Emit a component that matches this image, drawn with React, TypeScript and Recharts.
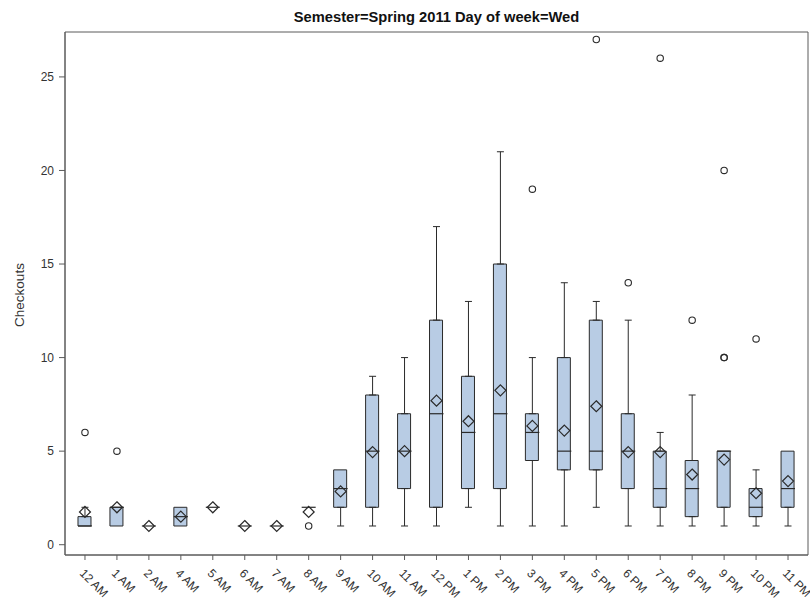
import React from 'react';
import { ComposedChart, Bar, Scatter, ErrorBar, XAxis, YAxis, ReferenceArea } from 'recharts';

const hourLabels = ['12 AM', '1 AM', '2 AM', '4 AM', '5 AM', '6 AM', '7 AM', '8 AM', '9 AM', '10 AM', '11 AM', '12 PM', '1 PM', '2 PM', '3 PM', '4 PM', '5 PM', '6 PM', '7 PM', '8 PM', '9 PM', '10 PM', '11 PM'];
const q1Values = [1, 1, 1, 1, 2, 1, 1, 2, 2, 2, 3, 2, 3, 3, 4.5, 4, 4, 3, 2, 1.5, 2, 1.5, 2];
const medianValues = [1, 2, 1, 1.5, 2, 1, 1, 2, 3, 5, 5, 7, 6, 7, 6, 5, 5, 5, 3, 3, 5, 2, 3];
const q3Values = [1.5, 2, 1, 2, 2, 1, 1, 2, 4, 8, 7, 12, 9, 15, 7, 10, 12, 7, 5, 4.5, 5, 3, 5];
const whiskerLowValues = [1, 1, 1, 1, 2, 1, 1, 2, 1, 1, 1, 1, 2, 1, 1, 1, 2, 1, 1, 1, 1, 1, 1];
const whiskerHighValues = [2, 2, 1, 2, 2, 1, 1, 2, 4, 9, 10, 17, 13, 21, 10, 14, 13, 12, 6, 8, 5, 4, 5];
const meanValues = [1.75, 2, 1, 1.5, 2, 1, 1, 1.75, 2.85, 4.95, 5, 7.7, 6.6, 8.25, 6.35, 6.1, 7.4, 4.95, 4.95, 3.75, 4.55, 2.75, 3.4];
const outlierHours = ['12 AM', '1 AM', '8 AM', '3 PM', '5 PM', '6 PM', '7 PM', '8 PM', '9 PM', '9 PM', '9 PM', '10 PM'];
const outlierValues = [6, 5, 1, 19, 27, 14, 26, 12, 10, 10, 20, 11];
const yTicks = [0, 5, 10, 15, 20, 25];

const FONT = '"Liberation Sans", Arial, Helvetica, sans-serif';
const FRAME = '#5a5a5a';
const INK = '#2a2a2a';
const BOX_FILL = '#B8CCE4';
const X_DOMAIN: [number, number] = [-0.625, 22.625];
const Y_DOMAIN: [number, number] = [-0.55, 27.4];

const xIdx = hourLabels.map((_, i) => i);
const boxRows = xIdx.map((i) => ({ x: i, box: [q1Values[i], q3Values[i]] }));
const medianRows = xIdx.map((i) => ({ x: i, y: medianValues[i] }));
const meanRows = xIdx.map((i) => ({ x: i, y: meanValues[i] }));
const lowWhiskerRows = xIdx
  .filter((i) => whiskerLowValues[i] < q1Values[i])
  .map((i) => ({ x: i, y: q1Values[i], err: [q1Values[i] - whiskerLowValues[i], 0] }));
const highWhiskerRows = xIdx
  .filter((i) => whiskerHighValues[i] > q3Values[i])
  .map((i) => ({ x: i, y: q3Values[i], err: [0, whiskerHighValues[i] - q3Values[i]] }));
const outlierRows = outlierHours.map((h, k) => ({ x: hourLabels.indexOf(h), y: outlierValues[k] }));

const MedianShape = (p: any) => (
  <line x1={p.cx - 7} x2={p.cx + 7} y1={p.cy} y2={p.cy} stroke={INK} strokeWidth={1.2} />
);
const MeanShape = (p: any) => {
  const s = 5.5;
  return (
    <path
      d={`M${p.cx},${p.cy - s}L${p.cx + s},${p.cy}L${p.cx},${p.cy + s}L${p.cx - s},${p.cy}Z`}
      fill="none"
      stroke={INK}
      strokeWidth={1.2}
    />
  );
};
const OutlierShape = (p: any) => <circle cx={p.cx} cy={p.cy} r={3.2} fill="none" stroke={INK} strokeWidth={1.1} />;
const EmptyShape = () => <g />;

const XTick = (props: any) => {
  const { x, y, payload } = props;
  const px = x - 6;
  const py = y + 12;
  return (
    <text x={px} y={py} transform={`rotate(45 ${px} ${py})`} fontSize={12} fill="#333" fontFamily={FONT} textAnchor="start">
      {hourLabels[payload.value]}
    </text>
  );
};

export default function App() {
  return (
    <div style={{ position: 'absolute', left: 0, top: 0, width: 810, height: 603, background: '#fff', fontFamily: FONT }}>
      <div
        style={{
          position: 'absolute',
          left: 65,
          width: 743,
          top: 9,
          textAlign: 'center',
          fontWeight: 'bold',
          fontSize: 14.7,
          color: '#111',
          whiteSpace: 'nowrap',
        }}
      >
        Semester=Spring 2011 Day of week=Wed
      </div>
      <div
        style={{
          position: 'absolute',
          left: 19,
          top: 295,
          transform: 'translate(-50%, -50%) rotate(-90deg)',
          fontSize: 13.5,
          color: '#333',
          whiteSpace: 'nowrap',
        }}
      >
        Checkouts
      </div>
      <ComposedChart width={810} height={603} data={boxRows} margin={{ top: 32, right: 2, left: 0, bottom: 0 }}>
        <XAxis
          dataKey="x"
          type="number"
          domain={X_DOMAIN}
          allowDataOverflow
          ticks={xIdx}
          interval={0}
          height={48}
          tickSize={5}
          tick={<XTick />}
          axisLine={{ stroke: FRAME }}
          tickLine={{ stroke: FRAME }}
        />
        <YAxis
          type="number"
          domain={Y_DOMAIN}
          allowDataOverflow
          ticks={yTicks}
          width={65}
          tickSize={6}
          tickMargin={5}
          tick={{ fontSize: 12, fill: '#333', fontFamily: FONT }}
          axisLine={{ stroke: FRAME }}
          tickLine={{ stroke: FRAME }}
        />
        <ReferenceArea
          x1={X_DOMAIN[0]}
          x2={X_DOMAIN[1]}
          y1={Y_DOMAIN[0]}
          y2={Y_DOMAIN[1]}
          fill="none"
          fillOpacity={0}
          stroke={FRAME}
          strokeWidth={1}
          ifOverflow="visible"
        />
        <Bar dataKey="box" barSize={13} fill={BOX_FILL} stroke={INK} strokeWidth={1} isAnimationActive={false} />
        <Scatter data={lowWhiskerRows} dataKey="y" shape={EmptyShape} isAnimationActive={false}>
          <ErrorBar dataKey="err" direction="y" width={3.5} stroke={INK} strokeWidth={1} />
        </Scatter>
        <Scatter data={highWhiskerRows} dataKey="y" shape={EmptyShape} isAnimationActive={false}>
          <ErrorBar dataKey="err" direction="y" width={3.5} stroke={INK} strokeWidth={1} />
        </Scatter>
        <Scatter data={medianRows} dataKey="y" shape={MedianShape} isAnimationActive={false} />
        <Scatter data={meanRows} dataKey="y" shape={MeanShape} isAnimationActive={false} />
        <Scatter data={outlierRows} dataKey="y" shape={OutlierShape} isAnimationActive={false} />
      </ComposedChart>
    </div>
  );
}
